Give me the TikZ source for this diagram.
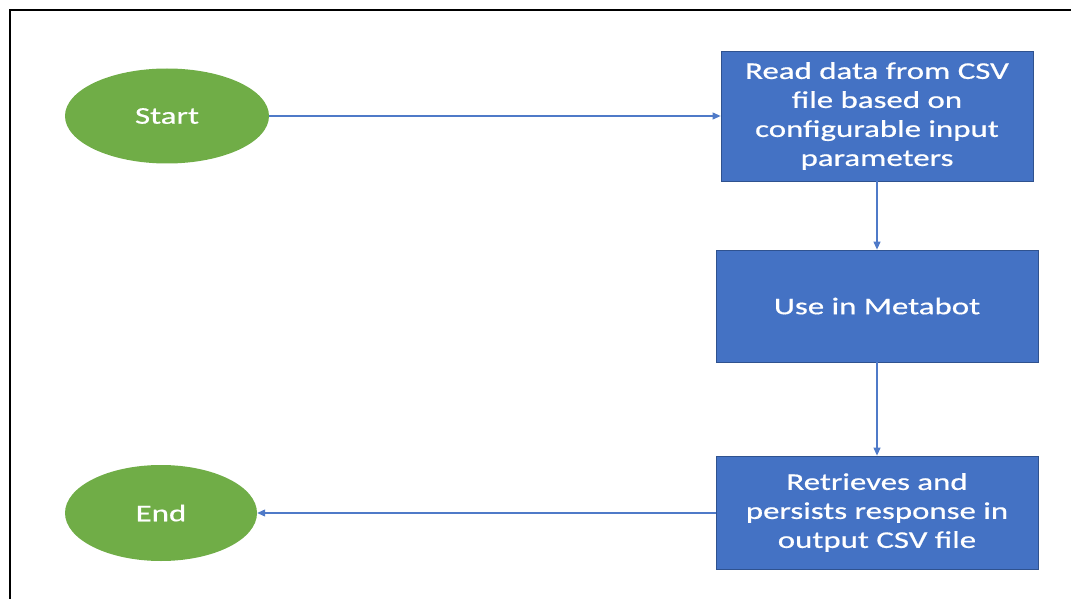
\documentclass[tikz,border=0pt]{standalone}
\usepackage{fontspec}
\setmainfont{Carlito}[FakeStretch=1.37,FakeBold=0.6]
\usetikzlibrary{shapes.geometric,arrows.meta}
\definecolor{flowgreen}{HTML}{70AD47}
\definecolor{flowblue}{HTML}{4472C4}
\definecolor{flowedge}{HTML}{2F528F}
\definecolor{flowline}{HTML}{4F7AC8}
\tikzset{
  term/.style={ellipse, fill=flowgreen, draw=none, inner sep=0pt, text=white, font=\fontsize{24}{29}\selectfont},
  proc/.style={rectangle, fill=flowblue, draw=flowedge, line width=0.8pt, inner sep=0pt, text=white, align=center, font=\fontsize{24}{29}\selectfont},
  conn/.style={draw=flowline, line width=1.1pt, -{Triangle[length=8pt,width=7pt]}}
}
\begin{document}
\begin{tikzpicture}[x=1pt,y=-1pt]
\useasboundingbox (0,0) rectangle (1071,599);
\draw[line width=2pt] (1071,10) -- (10,10) -- (10,599);
\node[term, minimum width=204pt, minimum height=95pt] (start) at (167,116) {Start};
\node[term, minimum width=192pt, minimum height=96pt] (end) at (161,513) {End};
\node[proc, minimum width=312pt, minimum height=130pt] (read) at (877,116) {Read data from CSV\\file based on\\configurable input\\parameters};
\node[proc, minimum width=322pt, minimum height=112pt] (use) at (877,306) {Use in Metabot};
\node[proc, minimum width=322pt, minimum height=113pt] (ret) at (877,512.5) {Retrieves and\\persists response in\\output CSV file};
\draw[conn] (start) -- (read);
\draw[conn] (read) -- (use);
\draw[conn] (use) -- (ret);
\draw[conn] (ret.west |- end) -- (end);
\end{tikzpicture}
\end{document}
